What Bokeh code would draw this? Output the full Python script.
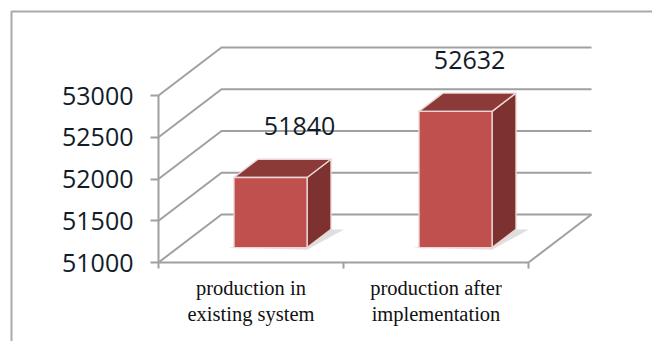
from bokeh.core.properties import value
from bokeh.embed import file_html
from bokeh.models import FixedTicker, LinearAxis, Range1d
from bokeh.plotting import figure
from bokeh.resources import INLINE

categories = ["production in\nexisting system", "production after\nimplementation"]
production = [51840, 52632]
value_ticks = [51000, 51500, 52000, 52500, 53000]

WIDTH, HEIGHT = 652, 341

# Scales: one x unit is one category slot, y is in production units.
PX_PER_CAT = 185
PX_PER_VALUE = 167 / 2000
X0_PX, Y0_PX = 158, 262

# Oblique projection of the chart's depth axis.
DEPTH_X = 63 / PX_PER_CAT
DEPTH_Y = 48 / PX_PER_VALUE

BAR_WIDTH = 0.395
BAR_FRONT, BAR_BACK = 0.31, 0.69
BASE = value_ticks[0]
TOP = value_ticks[-1]
N = len(categories)

GRID = "#a0a0a0"
FRONT = "#c0504d"
ROOF = "#8c3a38"
SIDE = "#7d3230"
EDGE = "#ecd6d5"
INK = "#111c28"


def project(cat, val, depth):
    return cat + depth * DEPTH_X, val + depth * DEPTH_Y


def page_x(px):
    return (px - X0_PX) / PX_PER_CAT


def page_y(py):
    return BASE + (Y0_PX - py) / PX_PER_VALUE


p = figure(
    width=WIDTH,
    height=HEIGHT,
    output_backend="svg",
    toolbar_location=None,
    min_border=0,
    outline_line_color=None,
    background_fill_color="white",
    x_range=Range1d(page_x(0), page_x(WIDTH)),
    y_range=Range1d(page_y(HEIGHT), page_y(0)),
    x_axis_location=None,
    y_axis_location=None,
)
p.grid.visible = False

# Chart-area border, open towards the right and bottom of the page.
p.line([page_x(11), page_x(11), page_x(WIDTH + 5)],
       [page_y(HEIGHT + 5), page_y(11), page_y(11)],
       line_color="#a9a9a9", line_width=2)

# Side wall diagonals and back wall gridlines.
grid_xs, grid_ys = [], []
for v in value_ticks:
    bx, by = project(0, v, 1)
    ex, _ = project(N, v, 1)
    grid_xs.append([0, bx, ex])
    grid_ys.append([v, by, by])
# Right-hand edge of the floor.
fx, fy = project(N, BASE, 1)
grid_xs.append([N, fx])
grid_ys.append([BASE, fy])
p.multi_line(grid_xs, grid_ys, line_color=GRID, line_width=2)

# Bars, with a faint cast shadow along the base.
for i, val in enumerate(production):
    left = i + 0.5 - BAR_WIDTH / 2
    right = left + BAR_WIDTH

    sx0, sy0 = project(left - 0.03, BASE, BAR_FRONT)
    sx1, sy1 = project(right, BASE - 25, BAR_FRONT)
    sx2, sy2 = project(right + 0.07, BASE, BAR_BACK)
    sx3, sy3 = project(right, BASE, BAR_BACK)
    p.patch([sx0, sx1, sx2, sx3], [sy0, sy1, sy2, sy3],
            fill_color="#c9c9c9", fill_alpha=0.6, line_color=None)

    corners_front = [project(left, BASE, BAR_FRONT), project(right, BASE, BAR_FRONT),
                     project(right, val, BAR_FRONT), project(left, val, BAR_FRONT)]
    corners_side = [project(right, BASE, BAR_FRONT), project(right, BASE, BAR_BACK),
                    project(right, val, BAR_BACK), project(right, val, BAR_FRONT)]
    corners_roof = [project(left, val, BAR_FRONT), project(right, val, BAR_FRONT),
                    project(right, val, BAR_BACK), project(left, val, BAR_BACK)]

    for corners, colour in ((corners_side, SIDE), (corners_roof, ROOF), (corners_front, FRONT)):
        p.patch([c[0] for c in corners], [c[1] for c in corners],
                fill_color=colour, line_color=EDGE, line_width=1.4, line_join="round")

# Value labels float above each bar.
label_shift_x = [0.157, 0.076]
label_shift_y = 51.5 / PX_PER_VALUE
lab_x, lab_y = [], []
for i, val in enumerate(production):
    x, y = project(i + 0.5 + label_shift_x[i], val + label_shift_y, BAR_FRONT)
    lab_x.append(x)
    lab_y.append(y)
p.text(lab_x, lab_y, text=[str(v) for v in production],
       text_font=value("Open Sans"), text_font_size="25px", text_color=INK,
       text_align="center", text_baseline="middle")

# Value axis sits on the front-left edge.
y_axis = LinearAxis(
    fixed_location=0,
    bounds=(BASE, TOP),
    ticker=FixedTicker(ticks=value_ticks),
    axis_line_color=GRID, axis_line_width=2,
    major_tick_line_color=GRID, major_tick_line_width=2,
    major_tick_in=0, major_tick_out=8,
    minor_tick_line_color=None,
    major_label_standoff=17,
    major_label_text_font="Open Sans",
    major_label_text_font_size="25px",
    major_label_text_color=INK,
)
p.add_layout(y_axis, "left")

# Category axis: ticks fall between the slots, labels in the middle of each.
x_axis = LinearAxis(
    fixed_location=BASE,
    bounds=(0, N),
    ticker=FixedTicker(ticks=[i + 0.5 for i in range(N)], minor_ticks=list(range(N + 1))),
    major_label_overrides={i + 0.5: c for i, c in enumerate(categories)},
    axis_line_color=GRID, axis_line_width=2,
    major_tick_line_color=None,
    minor_tick_line_color=GRID, minor_tick_line_width=2,
    minor_tick_in=0, minor_tick_out=6,
    major_label_standoff=8,
    major_label_text_font="Liberation Serif",
    major_label_text_font_size="20.5px",
    major_label_text_color="#111111",
)
p.add_layout(x_axis, "below")

open("out.html", "w").write(file_html(p, INLINE))
